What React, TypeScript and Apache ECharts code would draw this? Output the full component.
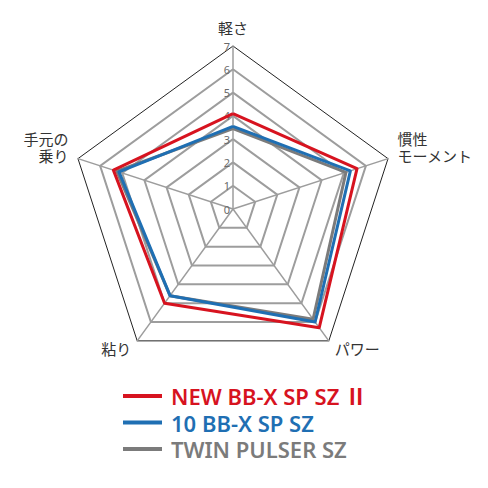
import React, { useEffect, useRef } from 'react';
import * as echarts from 'echarts';

// indicators in ECharts order (counterclockwise from the top)
const indicatorNames = ['軽さ', '手元の\n乗り', '粘り', 'パワー', '慣性\nモーメント'];
const axisMax = 7;
const seriesNames = ['NEW BB-X SP SZ Ⅱ', '10 BB-X SP SZ', 'TWIN PULSER SZ'];
const newBBX = [4.1, 5.4, 5.0, 6.3, 5.6];
const bbx10 = [3.55, 5.15, 4.6, 6.0, 5.3];
const twinPulser = [3.45, 5.25, 4.6, 5.85, 5.1];
const seriesColors = ['#d7131f', '#1f6fb3', '#7b7b7b'];

const JP_FONT = '"Noto Sans CJK JP", "Noto Sans", sans-serif';

export default function App() {
    const chartRef = useRef<HTMLDivElement>(null);

    useEffect(() => {
        if (!chartRef.current) return;
        const chart = echarts.init(chartRef.current, undefined, { renderer: 'svg' });

        const indicator = indicatorNames.map((name, i) => ({
            name,
            min: 0,
            max: axisMax,
            ...(i === 0
                ? {
                      axisLabel: {
                          show: true,
                          margin: 3,
                          color: '#6a6a6a',
                          fontSize: 11,
                          fontFamily: 'Noto Sans, sans-serif',
                          showMinLabel: true,
                          showMaxLabel: true,
                      },
                  }
                : {}),
        }));

        // drawn bottom to top: gray, blue, red
        const seriesData = [twinPulser, bbx10, newBBX];
        const seriesIdx = [2, 1, 0];

        const option: echarts.EChartsOption = {
            animation: false,
            legend: {
                data: seriesNames.map((name, i) => ({
                    name,
                    textStyle: { color: seriesColors[i] },
                })),
                orient: 'vertical',
                left: 118,
                top: 380,
                icon: 'rect',
                itemWidth: 39,
                itemHeight: 4,
                itemGap: 4.5,
                textStyle: {
                    fontSize: 22,
                    fontWeight: 600,
                    fontFamily: '"Noto Sans", "Noto Sans CJK JP", sans-serif',
                    lineHeight: 20,
                    padding: [0, 0, 0, 4],
                },
            },
            radar: [
                {
                    center: [233, 209],
                    radius: 163,
                    shape: 'polygon',
                    splitNumber: 7,
                    indicator,
                    axisName: {
                        color: '#333',
                        fontSize: 15,
                        fontFamily: JP_FONT,
                        lineHeight: 17,
                        // spacer line lifts the two-line names above their vertex
                        formatter: (name?: string) => (name && name.includes('\n') ? `${name}\n{sp| }` : name || ''),
                        rich: { sp: { fontSize: 2, lineHeight: 18 } },
                    },
                    nameGap: 10,
                    axisLine: { lineStyle: { color: '#9d9d9d', width: 1.5 } },
                    splitLine: {
                        lineStyle: {
                            color: ['#9d9d9d', '#9d9d9d', '#9d9d9d', '#9d9d9d', '#9d9d9d', '#9d9d9d', '#9d9d9d', 'rgba(0,0,0,0)'],
                            width: 2,
                        },
                    },
                    splitArea: { show: false },
                },
                {
                    center: [233, 209],
                    radius: 163,
                    shape: 'polygon',
                    splitNumber: 1,
                    indicator: indicatorNames.map(() => ({ name: '', min: 0, max: axisMax })),
                    axisName: { show: false },
                    axisLine: { show: false },
                    splitLine: { lineStyle: { color: '#222', width: 1 } },
                    splitArea: { show: false },
                },
            ],
            series: seriesData.map((values, k) => ({
                type: 'radar',
                name: seriesNames[seriesIdx[k]],
                radarIndex: 0,
                symbol: 'none',
                color: seriesColors[seriesIdx[k]],
                lineStyle: { width: 3, color: seriesColors[seriesIdx[k]] },
                data: [{ value: values, name: seriesNames[seriesIdx[k]] }],
            })),
        };

        chart.setOption(option);
        return () => {
            chart.dispose();
        };
    }, []);

    return (
        <div
            ref={chartRef}
            style={{ position: 'fixed', left: 0, top: 0, width: 488, height: 488, background: '#fff' }}
        />
    );
}
